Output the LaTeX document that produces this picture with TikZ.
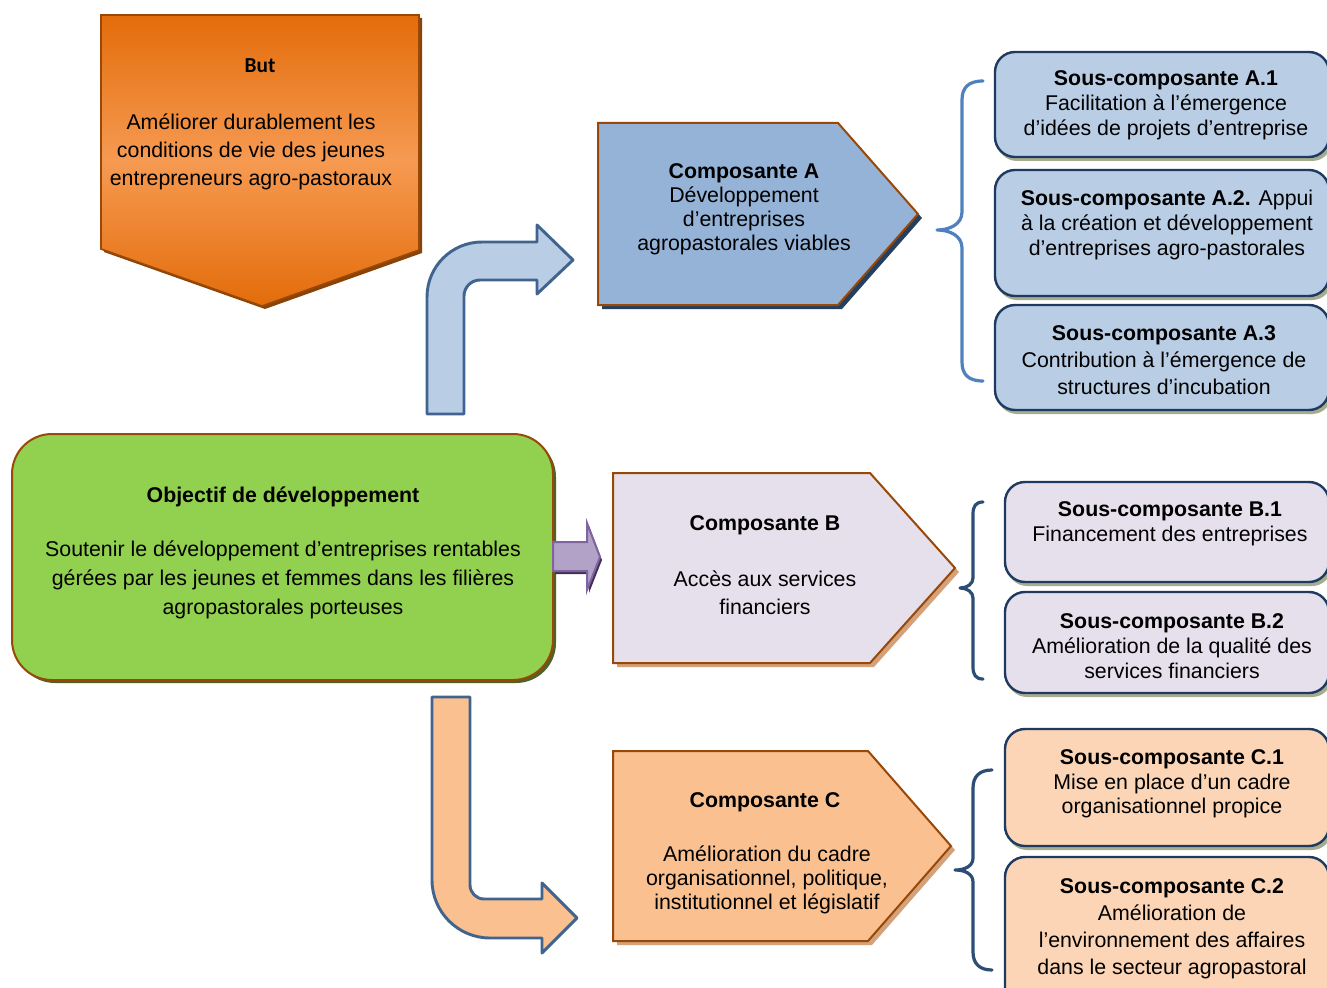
\documentclass[tikz,border=0pt]{standalone}
\usepackage{fontspec}
\setmainfont{Liberation Sans}
\newfontfamily\calibrifont{Carlito}
\definecolor{butTop}{HTML}{E36C0A}
\definecolor{butMid}{HTML}{F69A52}
\definecolor{brownLine}{HTML}{984807}
\definecolor{butShadow}{HTML}{8A4306}
\definecolor{greenFill}{HTML}{92D050}
\definecolor{greenShadow}{HTML}{4F6228}
\definecolor{compAFill}{HTML}{95B3D7}
\definecolor{compAShadow}{HTML}{243F60}
\definecolor{compBFill}{HTML}{E5E0EC}
\definecolor{compCFill}{HTML}{FAC090}
\definecolor{tanShadow}{HTML}{D4A27A}
\definecolor{subAFill}{HTML}{B9CDE5}
\definecolor{subCFill}{HTML}{FBD5B5}
\definecolor{subLine}{HTML}{1F3A60}
\definecolor{subShadow}{HTML}{A6AD8F}
\definecolor{arrowLine}{HTML}{41648F}
\definecolor{purpleFill}{HTML}{B3A2C7}
\definecolor{purpleLine}{HTML}{8064A2}
\definecolor{purpleShadow}{HTML}{3F3151}
\definecolor{braceA}{HTML}{4F81BD}
\definecolor{braceBC}{HTML}{2C4D75}
\newcommand\tsize[1]{\fontsize{16}{#1}\selectfont}
\tikzset{
  txt/.style={align=center, inner sep=0pt, text=black},
  pent/.style={draw=brownLine, line width=1.5pt, line join=miter},
  subbox/.style={draw=subLine, line width=1.8pt, rounded corners=15pt},
  subshadow/.style={fill=subShadow, rounded corners=15pt},
  blockarrow/.style={draw=arrowLine, line width=2.2pt, line join=round},
  bracket/.style={line width=2.4pt, line cap=round, line join=round}
}
\begin{document}
\begin{tikzpicture}[x=0.75pt,y=-0.75pt]
\clip (0,0) rectangle (1327,988);
\fill[white] (0,0) rectangle (1327,988);

% ---- goal (downward pentagon)
\fill[butShadow] (104,18) -- (422,18) -- (422,253) -- (265,309) -- (104,252) -- cycle;
\shade[top color=butTop, bottom color=butTop, middle color=butMid]
  (101,15) -- (419,15) -- (419,250) -- (262,306) -- (101,249) -- cycle;
\draw[brownLine, line width=1.2pt] (101,15) -- (419,15) -- (419,250) -- (262,306) -- (101,249) -- cycle;
\node[txt, font=\calibrifont\bfseries\fontsize{16}{19}\selectfont] (butT) at (260,66) {But};
\node[txt, font=\tsize{21pt}] (butB) at (251,152)
  {Améliorer durablement les\\conditions de vie des jeunes\\entrepreneurs agro-pastoraux};

% ---- development objective
\fill[greenShadow, rounded corners=30pt] (15,437) rectangle (556,683);
\draw[fill=greenFill, draw=brownLine, line width=1.5pt, rounded corners=30pt] (12,434) rectangle (553,680);
\node[txt, font=\bfseries\tsize{21pt}] (objT) at (283,497) {Objectif de développement};
\node[txt, font=\tsize{21.75pt}] (objB) at (283,580)
  {Soutenir le développement d’entreprises rentables\\gérées par les jeunes et femmes dans les filières\\agropastorales porteuses};

% ---- block arrows
\draw[blockarrow, fill=subAFill]
  (427,414) -- (427,297) .. controls (427,266.6) and (451.6,242) .. (482,242)
  -- (537,242) -- (537,225) -- (573,260) -- (537,294) -- (537,280) -- (480,280)
  .. controls (471.2,280) and (464,287.2) .. (464,296) -- (464,414) -- cycle;

\fill[purpleShadow] (555,545) -- (589,545) -- (589,526) -- (602,560) -- (589,593) -- (589,574) -- (555,574) -- cycle;
\draw[fill=purpleFill, draw=purpleLine, line width=1.5pt, line join=miter]
  (553,542) -- (587,542) -- (587,523) -- (600,557) -- (587,590) -- (587,571) -- (553,571) -- cycle;

\draw[blockarrow, fill=compCFill]
  (432,697) -- (470,697) -- (470,885) .. controls (470,892.7) and (476.3,899) .. (484,899)
  -- (542,899) -- (542,883) -- (577,918) -- (542,953) -- (542,938) -- (490,938)
  .. controls (458,938) and (432,912) .. (432,880) -- cycle;

% ---- component A
\fill[compAShadow] (602,127) -- (842,127) -- (922,218) -- (842,309) -- (602,309) -- cycle;
\draw[pent, fill=compAFill] (598,123) -- (838,123) -- (918,214) -- (838,305) -- (598,305) -- cycle;
\node[txt, font=\tsize{18pt}] (compA) at (744,209)
  {\textbf{Composante A}\\Développement\\d’entreprises\\agropastorales viables};

% ---- component B
\fill[tanShadow] (617,477) -- (874,477) -- (959,572) -- (874,667) -- (617,667) -- cycle;
\draw[pent, fill=compBFill] (613,473) -- (870,473) -- (955,568) -- (870,663) -- (613,663) -- cycle;
\node[txt, font=\bfseries\tsize{21pt}] (compBT) at (765,525) {Composante B};
\node[txt, font=\tsize{21pt}] (compBB) at (765,593) {Accès aux services\\financiers};

% ---- component C
\fill[tanShadow] (617,755) -- (872,755) -- (955,850) -- (872,945) -- (617,945) -- cycle;
\draw[pent, fill=compCFill] (613,751) -- (868,751) -- (951,846) -- (868,941) -- (613,941) -- cycle;
\node[txt, font=\bfseries\tsize{21pt}] (compCT) at (765,802) {Composante C};
\node[txt, font=\tsize{18pt}] (compCB) at (767,880)
  {Amélioration du cadre\\organisationnel, politique,\\institutionnel et législatif};

% ---- braces
\draw[bracket, braceA] (983,81) .. controls (968,81) and (962,88) .. (962,100) -- (962,212)
  .. controls (962,224) and (950,230) .. (937,230) .. controls (950,230) and (962,236) .. (962,248)
  -- (962,362) .. controls (962,374) and (968,381) .. (983,381);
\draw[bracket, braceBC] (983,502) .. controls (976,502) and (973,506) .. (973,514) -- (973,578)
  .. controls (973,584) and (967,588) .. (960,588) .. controls (967,588) and (973,592) .. (973,598)
  -- (973,667) .. controls (973,675) and (976,679) .. (983,679);
\draw[bracket, braceBC] (992,770) .. controls (980,770) and (973,776) .. (973,788) -- (973,858)
  .. controls (973,866) and (965,870) .. (955,870) .. controls (965,870) and (973,874) .. (973,882)
  -- (973,952) .. controls (973,964) and (980,970) .. (992,970);

% ---- sub-components: shadows
\fill[subshadow] (997,55) rectangle (1332,161);
\fill[subshadow] (997,173) rectangle (1332,300);
\fill[subshadow] (997,308) rectangle (1332,414);
\fill[subshadow] (1007,485) rectangle (1332,586);
\fill[subshadow] (1007,595) rectangle (1332,697);
\fill[subshadow] (1007,732) rectangle (1332,850);
\fill[subshadow] (1007,860) rectangle (1332,1014);

% ---- sub-components: boxes
\draw[subbox, fill=subAFill] (995,52) rectangle (1329,157);
\draw[subbox, fill=subAFill] (995,170) rectangle (1329,296);
\draw[subbox, fill=subAFill] (995,305) rectangle (1329,410);
\draw[subbox, fill=compBFill] (1005,482) rectangle (1329,582);
\draw[subbox, fill=compBFill] (1005,592) rectangle (1329,693);
\draw[subbox, fill=subCFill] (1005,729) rectangle (1329,846);
\draw[subbox, fill=subCFill] (1005,857) rectangle (1329,1010);

% ---- sub-components: texts
\node[txt, font=\tsize{18.75pt}] (sa1) at (1166,105)
  {\textbf{Sous-composante A.1}\\Facilitation à l’émergence\\d’idées de projets d’entreprise};
\node[txt, font=\tsize{18.5pt}] (sa2) at (1167,225)
  {\textbf{Sous-composante A.2.} Appui\\à la création et développement\\d’entreprises agro-pastorales};
\node[txt, font=\tsize{20.25pt}] (sa3) at (1164,360)
  {\textbf{Sous-composante A.3}\\Contribution à l’émergence de\\structures d’incubation};
\node[txt, font=\tsize{18.75pt}] (sb1) at (1170,524)
  {\textbf{Sous-composante B.1}\\Financement des entreprises};
\node[txt, font=\tsize{18.5pt}] (sb2) at (1172,646)
  {\textbf{Sous-composante B.2}\\Amélioration de la qualité des\\services financiers};
\node[txt, font=\tsize{18.5pt}] (sc1) at (1172,784)
  {\textbf{Sous-composante C.1}\\Mise en place d’un cadre\\organisationnel propice};
\node[txt, font=\tsize{20.25pt}] (sc2) at (1172,928.5)
  {\textbf{Sous-composante C.2}\\Amélioration de\\l’environnement des affaires\\dans le secteur agropastoral};
\end{tikzpicture}
\end{document}
